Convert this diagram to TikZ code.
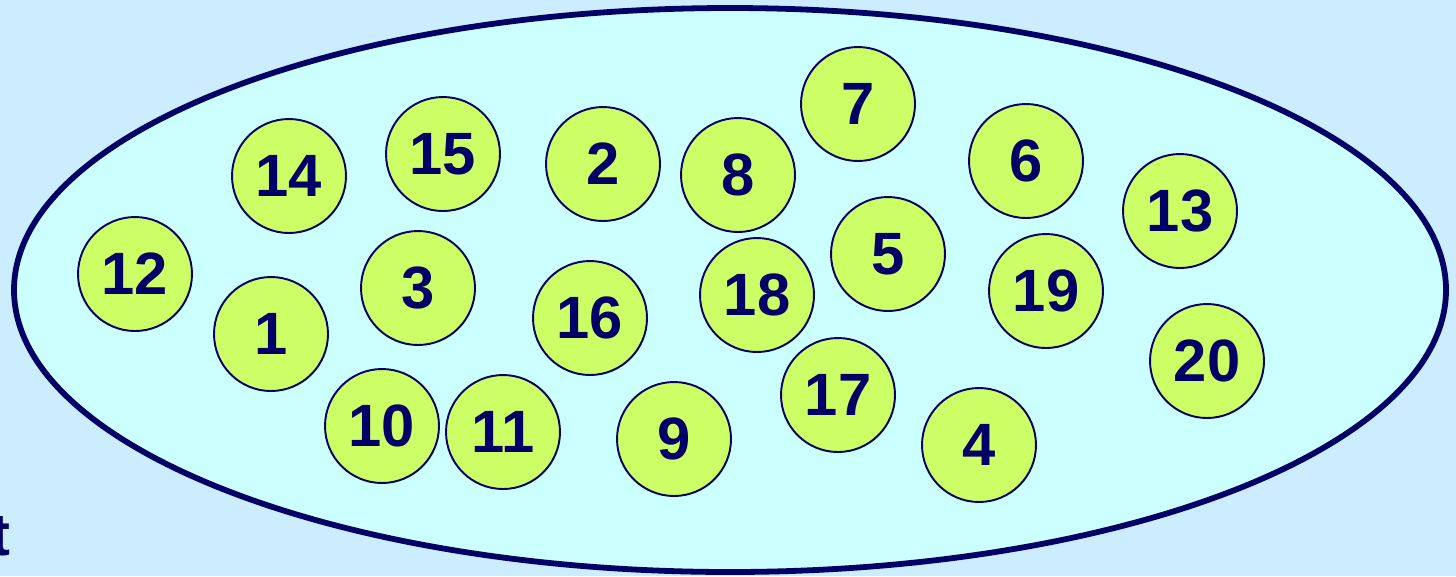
\documentclass[tikz,border=0pt]{standalone}
\usepackage{fontspec}
\setmainfont{Liberation Sans}
\usetikzlibrary{positioning}
\definecolor{bgblue}{RGB}{204,236,255}
\definecolor{setcyan}{RGB}{204,255,255}
\definecolor{navy}{RGB}{0,0,102}
\definecolor{ballgreen}{RGB}{204,255,102}

\begin{document}
\begin{tikzpicture}[x=.02cm,y=-.02cm,
ball/.style={circle,draw=navy,line width=1.1pt,fill=ballgreen,minimum size=2.28cm,inner sep=0pt,
  text=navy,font=\fontsize{34}{40}\selectfont\bfseries},
setline/.style={draw=navy,line width=3.3pt,fill=setcyan}]

\fill[bgblue](0,0)rectangle(1456,576);
\useasboundingbox(0,0)rectangle(1456,576);
\path[setline](730,290)ellipse[x radius=716,y radius=282];
\node[text=navy,font=\fontsize{34}{40}\selectfont\bfseries,anchor=base east,inner sep=0pt](cut)at(11,555){t};
\foreach \n/\xx/\yy in {1/271/334,2/603/164,3/418/288,4/979/445,5/888/254,6/1026/161,7/858/104,
  8/738/175,9/674/439,10/382/426,11/503/432,12/135/274,13/1180/211,14/289/176,15/443/154,
  16/590/318,17/838/395,18/757/295,19/1046/291,20/1207/361}
  {\node[ball](b\n)at(\xx,\yy){\raisebox{-1.7pt}{\n}};}
\end{tikzpicture}
\end{document}
